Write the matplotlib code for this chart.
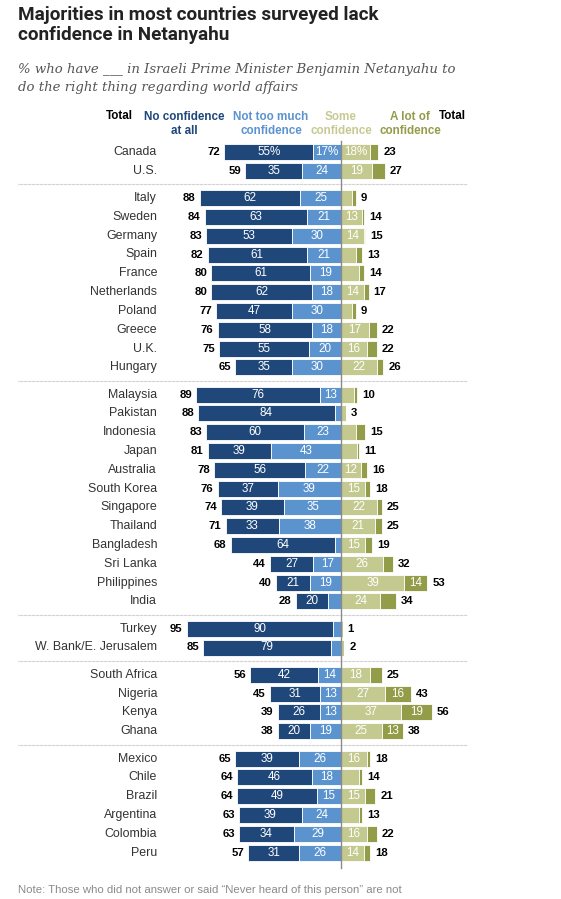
import matplotlib.pyplot as plt
import numpy as np

countries = ['Canada', 'U.S.',
             'Italy', 'Sweden', 'Germany', 'Spain', 'France', 'Netherlands',
             'Poland', 'Greece', 'U.K.', 'Hungary',
             'Malaysia', 'Pakistan', 'Indonesia', 'Japan', 'Australia',
             'South Korea', 'Singapore', 'Thailand', 'Bangladesh', 'Sri Lanka',
             'Philippines', 'India',
             'Turkey', 'W. Bank/E. Jerusalem',
             'South Africa', 'Nigeria', 'Kenya', 'Ghana',
             'Mexico', 'Chile', 'Brazil', 'Argentina', 'Colombia', 'Peru']
group_sizes = [2, 10, 12, 2, 4, 6]

no_conf  = [55, 35, 62, 63, 53, 61, 61, 62, 47, 58, 55, 35,
            76, 84, 60, 39, 56, 37, 39, 33, 64, 27, 21, 20,
            90, 79, 42, 31, 26, 20, 39, 46, 49, 39, 34, 31]
not_much = [17, 24, 25, 21, 30, 21, 19, 18, 30, 18, 20, 30,
            13, 4, 23, 43, 22, 39, 35, 38, 4, 17, 19, 8,
            5, 6, 14, 13, 13, 19, 26, 18, 15, 24, 29, 26]
some     = [18, 19, 7, 13, 14, 9, 11, 14, 7, 17, 16, 22,
            8, 3, 9, 10, 12, 15, 22, 21, 15, 26, 39, 24,
            1, 2, 18, 27, 37, 25, 16, 11, 15, 11, 16, 14]
a_lot    = [5, 8, 2, 1, 1, 4, 3, 3, 2, 5, 6, 4,
            2, 0, 6, 1, 4, 3, 3, 4, 4, 6, 14, 10,
            0, 0, 7, 16, 19, 13, 2, 2, 6, 2, 6, 4]
total_neg = [72, 59, 88, 84, 83, 82, 80, 80, 77, 76, 75, 65,
             89, 88, 83, 81, 78, 76, 74, 71, 68, 44, 40, 28,
             95, 85, 56, 45, 39, 38, 65, 64, 64, 63, 63, 57]
total_pos = [23, 27, 9, 14, 15, 13, 14, 17, 9, 22, 22, 26,
             10, 3, 15, 11, 16, 18, 25, 25, 19, 32, 53, 34,
             1, 2, 25, 43, 56, 38, 18, 14, 21, 13, 22, 18]

C_NO = '#1f4779'
C_NM = '#5b93cf'
C_SOME = '#c4c98f'
C_LOT = '#939c48'

plt.rcParams['font.family'] = ['Liberation Sans', 'DejaVu Sans']

S = 1.625      # pixels per percentage point
CX = 341       # pixel position of the zero line
W, H = 561, 899

def X(px):
    return (px - CX) / S

fig = plt.figure(figsize=(W / 100, H / 100), dpi=100)
ax = fig.add_axes([0, 0, 1, 1])
ax.set_xlim(X(0), X(W))
ax.set_ylim(H, 0)
ax.axis('off')

# row positions, with a gap between groups
pitch, gap, y0 = 18.8, 8.5, 152
ys = []
gi = []
k = 0
for g, n in enumerate(group_sizes):
    for j in range(n):
        ys.append(y0 + k * pitch + g * gap)
        gi.append(g)
        k += 1
ys = np.array(ys)

no = np.array(no_conf)
nm = np.array(not_much)
so = np.array(some)
lo = np.array(a_lot)

bh = 16
kw = dict(height=bh, edgecolor='white', linewidth=0.6)
ax.barh(ys, no, left=-(no + nm), color=C_NO, **kw)
ax.barh(ys, nm, left=-nm, color=C_NM, **kw)
ax.barh(ys, so, left=0, color=C_SOME, **kw)
ax.barh(ys, lo, left=so, color=C_LOT, **kw)

# zero line
ax.plot([0, 0], [141, 868], color='#8a8a8a', lw=1, zorder=5)

# separators between groups
for i in range(1, len(ys)):
    if gi[i] != gi[i - 1]:
        ym = (ys[i] + ys[i - 1]) / 2
        ax.plot([X(18), X(467)], [ym, ym], color='#b5b5b5', lw=0.8,
                ls=(0, (0.6, 0.6)), zorder=1)

lab = dict(ha='center', va='center', color='white', fontsize=8.4)
for i, y in enumerate(ys):
    suf = '%' if i == 0 else ''
    ax.text(X(157), y, countries[i], ha='right', va='center',
            color='#333333', fontsize=8.9)
    if no[i] >= 12:
        ax.text(-(nm[i] + no[i] / 2), y, f'{no[i]}{suf}', **lab)
    if nm[i] >= 12:
        ax.text(-nm[i] / 2, y, f'{nm[i]}{suf}', **lab)
    if so[i] >= 12:
        ax.text(so[i] / 2, y, f'{so[i]}{suf}', **lab)
    if lo[i] >= 12:
        ax.text(so[i] + lo[i] / 2, y, f'{lo[i]}{suf}', **lab)
    ax.text(-(no[i] + nm[i]) - 4 / S, y, str(total_neg[i]),
            ha='right', va='center', fontsize=8.2, fontweight='bold',
            color='black')
    ax.text(so[i] + lo[i] + 5 / S, y, str(total_pos[i]),
            ha='left', va='center', fontsize=8.2, fontweight='bold',
            color='black')

# column headers
hdr = dict(ha='center', va='center', fontsize=8.4, fontweight='bold',
           linespacing=1.25)
ax.text(X(119), 116, 'Total', color='black', **hdr)
ax.text(X(184), 124, 'No confidence\nat all', color=C_NO, **hdr)
ax.text(X(271), 124, 'Not too much\nconfidence', color=C_NM, **hdr)
ax.text(X(341), 124, 'Some\nconfidence', color='#c6ca92', **hdr)
ax.text(X(410), 124, 'A lot of\nconfidence', color=C_LOT, **hdr)
ax.text(X(452), 116, 'Total', color='black', **hdr)

# title and subtitle
ax.text(X(18), 6, 'Majorities in most countries surveyed lack\nconfidence in Netanyahu',
        ha='left', va='top', fontsize=13.6, fontweight='bold', color='#222222',
        family='Roboto', linespacing=1.15)
ax.text(X(18), 63, '% who have ___ in Israeli Prime Minister Benjamin Netanyahu to\n'
        'do the right thing regarding world affairs',
        ha='left', va='top', fontsize=9.5, style='italic', color='#555555',
        family='DejaVu Serif', linespacing=1.55)

ax.text(X(18), 885, 'Note: Those who did not answer or said \u201cNever heard of this person\u201d are not',
        ha='left', va='top', fontsize=8.2, color='#8a8a8a')

fig.savefig('out.png', dpi=100)
